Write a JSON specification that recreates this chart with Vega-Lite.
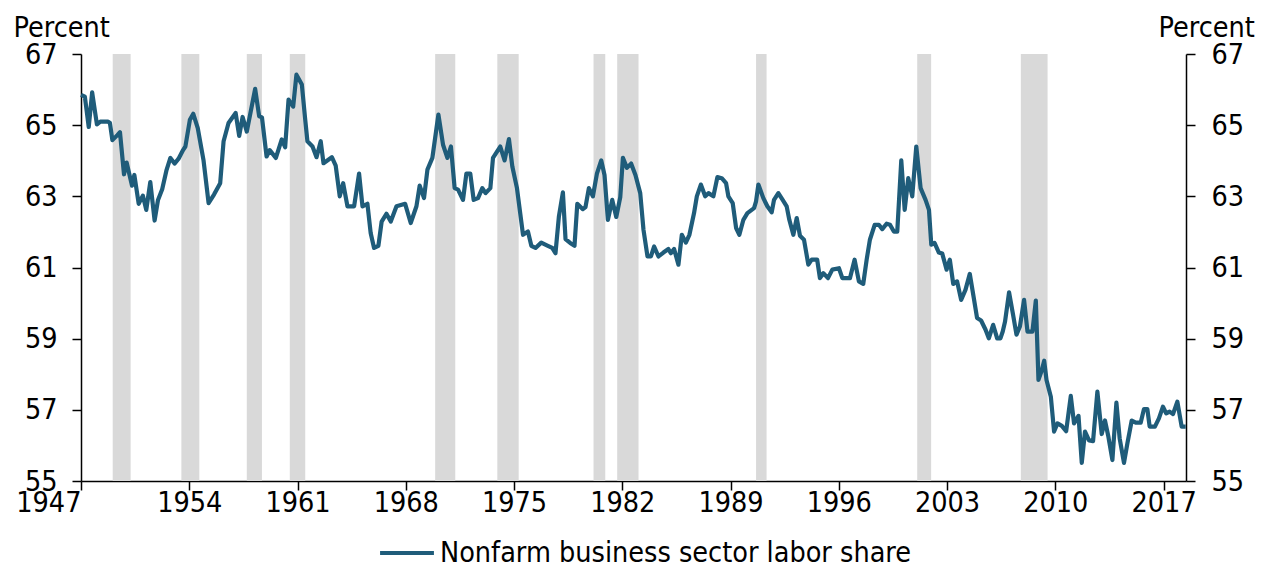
{
  "$schema": "https://vega.github.io/schema/vega-lite/v6.json",
  "width": 1105,
  "height": 427,
  "autosize": "none",
  "padding": {"left": 81, "top": 54, "right": 84, "bottom": 83},
  "background": "white",
  "config": {
    "view": {"stroke": null},
    "axis": {
      "grid": false,
      "domainColor": "black",
      "tickColor": "black",
      "labelColor": "black",
      "labelFont": "DejaVu Sans Condensed",
      "labelFontSize": 28.5,
      "titleFont": "DejaVu Sans Condensed",
      "titleFontSize": 28.5,
      "titleFontWeight": "normal",
      "titleColor": "black",
      "tickSize": 9,
      "domainWidth": 1.5,
      "tickWidth": 1.5
    },
    "legend": {
      "labelFont": "DejaVu Sans Condensed",
      "labelFontSize": 28.5,
      "labelColor": "black",
      "labelLimit": 1000
    }
  },
  "datasets": {
    "recessions": [
      {"start": 1949.05, "end": 1950.21},
      {"start": 1953.49, "end": 1954.65},
      {"start": 1957.72, "end": 1958.7},
      {"start": 1960.5, "end": 1961.5},
      {"start": 1969.9, "end": 1971.2},
      {"start": 1973.92, "end": 1975.3},
      {"start": 1980.14, "end": 1980.9},
      {"start": 1981.67, "end": 1983.05},
      {"start": 1990.65, "end": 1991.33},
      {"start": 2001.07, "end": 2001.97},
      {"start": 2007.77, "end": 2009.5}
    ],
    "share": [
      {"year": 1947.0, "value": 65.85},
      {"year": 1947.25, "value": 65.8},
      {"year": 1947.5, "value": 64.95},
      {"year": 1947.72, "value": 65.92},
      {"year": 1948.03, "value": 65.02},
      {"year": 1948.25, "value": 65.1},
      {"year": 1948.75, "value": 65.1},
      {"year": 1948.87, "value": 65.06},
      {"year": 1949.03, "value": 64.58},
      {"year": 1949.35, "value": 64.72},
      {"year": 1949.52, "value": 64.8},
      {"year": 1949.78, "value": 63.62},
      {"year": 1949.95, "value": 63.95},
      {"year": 1950.3, "value": 63.3},
      {"year": 1950.45, "value": 63.6},
      {"year": 1950.73, "value": 62.79},
      {"year": 1951.0, "value": 63.02},
      {"year": 1951.22, "value": 62.62},
      {"year": 1951.48, "value": 63.4},
      {"year": 1951.76, "value": 62.32},
      {"year": 1951.98, "value": 62.9},
      {"year": 1952.25, "value": 63.2},
      {"year": 1952.52, "value": 63.72},
      {"year": 1952.78, "value": 64.08},
      {"year": 1953.05, "value": 63.92},
      {"year": 1953.3, "value": 64.05},
      {"year": 1953.6, "value": 64.3},
      {"year": 1953.75, "value": 64.4},
      {"year": 1954.04, "value": 65.15},
      {"year": 1954.26, "value": 65.32},
      {"year": 1954.55, "value": 64.92},
      {"year": 1954.92, "value": 64.02},
      {"year": 1955.25, "value": 62.81},
      {"year": 1955.6, "value": 63.05},
      {"year": 1956.0, "value": 63.37},
      {"year": 1956.22, "value": 64.55},
      {"year": 1956.54, "value": 65.06},
      {"year": 1957.0, "value": 65.34},
      {"year": 1957.23, "value": 64.7},
      {"year": 1957.45, "value": 65.23},
      {"year": 1957.72, "value": 64.82},
      {"year": 1958.26, "value": 66.02},
      {"year": 1958.52, "value": 65.25},
      {"year": 1958.7, "value": 65.22},
      {"year": 1959.0, "value": 64.12},
      {"year": 1959.2, "value": 64.3},
      {"year": 1959.6, "value": 64.08},
      {"year": 1959.98, "value": 64.6},
      {"year": 1960.2, "value": 64.38},
      {"year": 1960.42, "value": 65.72},
      {"year": 1960.72, "value": 65.52},
      {"year": 1960.93, "value": 66.42},
      {"year": 1961.28, "value": 66.14},
      {"year": 1961.5, "value": 65.15},
      {"year": 1961.64, "value": 64.55},
      {"year": 1961.97, "value": 64.4},
      {"year": 1962.23, "value": 64.1},
      {"year": 1962.5, "value": 64.55},
      {"year": 1962.68, "value": 63.93},
      {"year": 1963.22, "value": 64.1},
      {"year": 1963.47, "value": 63.86},
      {"year": 1963.73, "value": 63.0},
      {"year": 1963.95, "value": 63.37},
      {"year": 1964.23, "value": 62.72},
      {"year": 1964.66, "value": 62.72},
      {"year": 1964.98, "value": 63.64},
      {"year": 1965.2, "value": 62.72},
      {"year": 1965.52, "value": 62.79},
      {"year": 1965.73, "value": 61.97},
      {"year": 1965.95, "value": 61.55},
      {"year": 1966.23, "value": 61.61},
      {"year": 1966.44, "value": 62.29},
      {"year": 1966.75, "value": 62.51},
      {"year": 1967.03, "value": 62.29},
      {"year": 1967.4, "value": 62.72},
      {"year": 1967.96, "value": 62.79},
      {"year": 1968.32, "value": 62.25},
      {"year": 1968.69, "value": 62.72},
      {"year": 1968.9, "value": 63.3},
      {"year": 1969.18, "value": 62.95},
      {"year": 1969.4, "value": 63.75},
      {"year": 1969.72, "value": 64.08},
      {"year": 1970.11, "value": 65.3},
      {"year": 1970.41, "value": 64.45},
      {"year": 1970.69, "value": 64.08},
      {"year": 1970.92, "value": 64.4},
      {"year": 1971.16, "value": 63.23},
      {"year": 1971.38, "value": 63.19},
      {"year": 1971.7, "value": 62.9},
      {"year": 1971.92, "value": 63.64},
      {"year": 1972.17, "value": 63.64},
      {"year": 1972.39, "value": 62.9},
      {"year": 1972.67, "value": 62.95},
      {"year": 1972.95, "value": 63.23},
      {"year": 1973.16, "value": 63.09},
      {"year": 1973.47, "value": 63.23},
      {"year": 1973.64, "value": 64.08},
      {"year": 1974.11, "value": 64.4},
      {"year": 1974.39, "value": 64.01},
      {"year": 1974.67, "value": 64.61},
      {"year": 1974.89, "value": 63.84},
      {"year": 1975.19, "value": 63.23},
      {"year": 1975.58, "value": 61.92},
      {"year": 1975.9, "value": 62.01},
      {"year": 1976.12, "value": 61.61},
      {"year": 1976.39, "value": 61.55},
      {"year": 1976.76, "value": 61.7},
      {"year": 1977.19, "value": 61.61},
      {"year": 1977.47, "value": 61.55},
      {"year": 1977.68, "value": 61.4},
      {"year": 1977.9, "value": 62.43},
      {"year": 1978.16, "value": 63.11},
      {"year": 1978.33, "value": 61.8},
      {"year": 1978.63, "value": 61.69},
      {"year": 1978.91, "value": 61.61},
      {"year": 1979.09, "value": 62.79},
      {"year": 1979.45, "value": 62.64},
      {"year": 1979.62, "value": 62.7},
      {"year": 1979.84, "value": 63.23},
      {"year": 1980.1, "value": 63.0},
      {"year": 1980.36, "value": 63.64},
      {"year": 1980.64, "value": 64.01},
      {"year": 1980.85, "value": 63.6},
      {"year": 1981.07, "value": 62.34},
      {"year": 1981.35, "value": 62.9},
      {"year": 1981.61, "value": 62.42},
      {"year": 1981.87, "value": 62.98},
      {"year": 1982.04, "value": 64.08},
      {"year": 1982.3, "value": 63.8},
      {"year": 1982.57, "value": 63.92},
      {"year": 1982.85, "value": 63.6},
      {"year": 1983.16, "value": 63.09},
      {"year": 1983.37, "value": 62.06},
      {"year": 1983.63, "value": 61.31},
      {"year": 1983.85, "value": 61.31},
      {"year": 1984.06, "value": 61.59},
      {"year": 1984.34, "value": 61.31},
      {"year": 1984.66, "value": 61.42},
      {"year": 1984.98, "value": 61.52},
      {"year": 1985.14, "value": 61.4},
      {"year": 1985.35, "value": 61.52},
      {"year": 1985.63, "value": 61.08},
      {"year": 1985.85, "value": 61.92},
      {"year": 1986.11, "value": 61.7},
      {"year": 1986.34, "value": 61.92},
      {"year": 1986.64, "value": 62.53},
      {"year": 1986.82, "value": 63.0},
      {"year": 1987.08, "value": 63.33},
      {"year": 1987.36, "value": 63.0},
      {"year": 1987.57, "value": 63.09},
      {"year": 1987.89, "value": 63.0},
      {"year": 1988.15, "value": 63.54},
      {"year": 1988.43, "value": 63.51},
      {"year": 1988.71, "value": 63.37},
      {"year": 1988.86, "value": 63.0},
      {"year": 1989.14, "value": 62.81},
      {"year": 1989.36, "value": 62.11},
      {"year": 1989.57, "value": 61.92},
      {"year": 1989.83, "value": 62.34},
      {"year": 1990.09, "value": 62.53},
      {"year": 1990.52, "value": 62.67},
      {"year": 1990.65, "value": 62.86},
      {"year": 1990.8, "value": 63.33},
      {"year": 1991.12, "value": 62.95},
      {"year": 1991.38, "value": 62.72},
      {"year": 1991.66, "value": 62.55},
      {"year": 1991.81, "value": 62.9},
      {"year": 1992.09, "value": 63.09},
      {"year": 1992.37, "value": 62.9},
      {"year": 1992.63, "value": 62.72},
      {"year": 1992.8, "value": 62.34},
      {"year": 1993.06, "value": 61.92},
      {"year": 1993.28, "value": 62.39},
      {"year": 1993.49, "value": 61.89},
      {"year": 1993.75, "value": 61.78},
      {"year": 1994.03, "value": 61.08},
      {"year": 1994.25, "value": 61.22},
      {"year": 1994.6, "value": 61.22},
      {"year": 1994.78, "value": 60.7},
      {"year": 1995.0, "value": 60.84},
      {"year": 1995.3, "value": 60.7},
      {"year": 1995.58, "value": 60.94},
      {"year": 1996.01, "value": 60.98},
      {"year": 1996.23, "value": 60.7},
      {"year": 1996.72, "value": 60.7},
      {"year": 1997.02, "value": 61.22},
      {"year": 1997.3, "value": 60.61},
      {"year": 1997.58, "value": 60.54},
      {"year": 1997.8, "value": 61.22},
      {"year": 1998.01, "value": 61.78},
      {"year": 1998.32, "value": 62.2},
      {"year": 1998.59, "value": 62.2},
      {"year": 1998.81, "value": 62.08},
      {"year": 1999.09, "value": 62.23},
      {"year": 1999.31, "value": 62.2},
      {"year": 1999.56, "value": 62.01},
      {"year": 1999.78, "value": 62.01},
      {"year": 2000.04, "value": 64.01},
      {"year": 2000.26, "value": 62.62},
      {"year": 2000.49, "value": 63.51},
      {"year": 2000.75, "value": 63.0},
      {"year": 2001.01, "value": 64.4},
      {"year": 2001.29, "value": 63.23},
      {"year": 2001.61, "value": 62.9},
      {"year": 2001.83, "value": 62.62},
      {"year": 2001.98, "value": 61.64},
      {"year": 2002.19, "value": 61.69},
      {"year": 2002.47, "value": 61.42},
      {"year": 2002.69, "value": 61.39},
      {"year": 2002.97, "value": 60.94},
      {"year": 2003.18, "value": 61.22},
      {"year": 2003.4, "value": 60.54},
      {"year": 2003.65, "value": 60.61},
      {"year": 2003.91, "value": 60.09},
      {"year": 2004.19, "value": 60.37},
      {"year": 2004.47, "value": 60.82},
      {"year": 2004.73, "value": 60.14},
      {"year": 2004.94, "value": 59.58},
      {"year": 2005.2, "value": 59.51},
      {"year": 2005.49, "value": 59.25},
      {"year": 2005.7, "value": 59.01},
      {"year": 2005.98, "value": 59.39},
      {"year": 2006.24, "value": 59.01},
      {"year": 2006.45, "value": 59.01},
      {"year": 2006.6, "value": 59.2},
      {"year": 2006.75, "value": 59.48},
      {"year": 2007.01, "value": 60.3},
      {"year": 2007.27, "value": 59.67},
      {"year": 2007.49, "value": 59.11},
      {"year": 2007.71, "value": 59.34},
      {"year": 2007.98, "value": 60.09},
      {"year": 2008.2, "value": 59.2},
      {"year": 2008.52, "value": 59.2},
      {"year": 2008.74, "value": 60.07},
      {"year": 2008.91, "value": 57.84},
      {"year": 2009.13, "value": 58.12},
      {"year": 2009.28, "value": 58.38},
      {"year": 2009.43, "value": 57.84},
      {"year": 2009.71, "value": 57.37},
      {"year": 2009.92, "value": 56.39},
      {"year": 2010.14, "value": 56.62},
      {"year": 2010.42, "value": 56.55},
      {"year": 2010.7, "value": 56.4},
      {"year": 2011.0, "value": 57.39},
      {"year": 2011.21, "value": 56.62},
      {"year": 2011.5, "value": 56.83},
      {"year": 2011.71, "value": 55.51},
      {"year": 2011.92, "value": 56.39},
      {"year": 2012.18, "value": 56.14},
      {"year": 2012.44, "value": 56.12},
      {"year": 2012.72, "value": 57.51},
      {"year": 2013.0, "value": 56.32},
      {"year": 2013.21, "value": 56.7},
      {"year": 2013.43, "value": 56.25},
      {"year": 2013.69, "value": 55.59},
      {"year": 2013.95, "value": 57.2},
      {"year": 2014.16, "value": 56.2},
      {"year": 2014.44, "value": 55.51},
      {"year": 2014.66, "value": 56.06},
      {"year": 2014.94, "value": 56.7},
      {"year": 2015.2, "value": 56.64},
      {"year": 2015.52, "value": 56.64},
      {"year": 2015.73, "value": 57.02},
      {"year": 2015.95, "value": 57.02},
      {"year": 2016.1, "value": 56.53},
      {"year": 2016.44, "value": 56.53},
      {"year": 2016.7, "value": 56.76},
      {"year": 2016.96, "value": 57.09},
      {"year": 2017.17, "value": 56.9},
      {"year": 2017.39, "value": 56.95},
      {"year": 2017.61, "value": 56.88},
      {"year": 2017.89, "value": 57.23},
      {"year": 2018.17, "value": 56.53},
      {"year": 2018.43, "value": 56.53}
    ]
  },
  "layer": [
    {
      "data": {"name": "recessions"},
      "mark": {"type": "rect", "color": "#d9d9d9"},
      "encoding": {
        "x": {
          "field": "start",
          "type": "quantitative",
          "scale": {"domain": [1947, 2018.45], "nice": false, "zero": false},
          "axis": {
            "orient": "bottom",
            "title": null,
            "values": [1947, 1954, 1961, 1968, 1975, 1982, 1989, 1996, 2003, 2010, 2017],
            "format": "d",
            "labelPadding": -2,
            "labelFlush": false,
            "labelOverlap": false,
            "labelAlign": {"condition": {"test": "datum.value == 1947", "value": "right"}, "value": "center"}
          }
        },
        "x2": {"field": "end"},
        "y": {
          "datum": 67,
          "type": "quantitative",
          "scale": {"domain": [55, 67], "nice": false, "zero": false},
          "axis": {
            "orient": "right",
            "title": "Percent",
            "values": [55, 57, 59, 61, 63, 65, 67],
            "labelPadding": 16,
            "titleAngle": 0,
            "titleAlign": "left",
            "titleBaseline": "alphabetic",
            "titleX": -28,
            "titleY": -18
          }
        },
        "y2": {"datum": 55}
      }
    },
    {
      "data": {"name": "share"},
      "mark": {"type": "line", "strokeWidth": 4.2, "strokeJoin": "round"},
      "encoding": {
        "x": {"field": "year", "type": "quantitative"},
        "y": {
          "field": "value",
          "type": "quantitative",
          "axis": {
            "orient": "left",
            "title": "Percent",
            "values": [55, 57, 59, 61, 63, 65, 67],
            "labelPadding": 15,
            "titleAngle": 0,
            "titleAlign": "left",
            "titleBaseline": "alphabetic",
            "titleX": -68,
            "titleY": -18
          }
        },
        "color": {
          "datum": "Nonfarm business sector labor share",
          "type": "nominal",
          "scale": {"range": ["#1f5c7a"]},
          "legend": {
            "title": null,
            "orient": "none",
            "legendX": 297,
            "legendY": 470,
            "symbolType": "stroke",
            "symbolSize": 2900,
            "symbolStrokeWidth": 4,
            "symbolStrokeColor": "#1f5c7a",
            "symbolFillColor": "#1f5c7a",
            "symbolOpacity": 1,
            "labelOffset": 4,
            "padding": 0
          }
        }
      }
    }
  ],
  "resolve": {"axis": {"y": "independent"}}
}
